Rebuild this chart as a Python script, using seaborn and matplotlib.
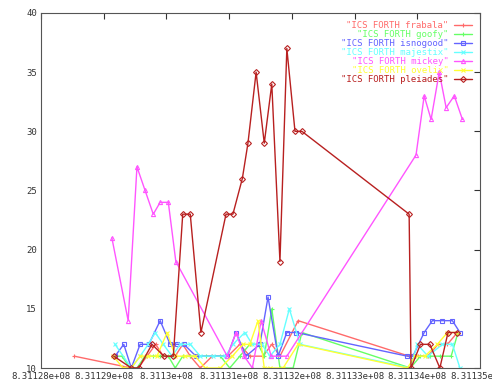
import matplotlib
matplotlib.use("Agg")
import matplotlib.pyplot as plt
import seaborn as sns

# time stamps (seconds) and load values
frabala_t = [831128530, 831129440, 831129550, 831129690, 831129830, 831129950, 831130140, 831130260,
             831130380, 831130540, 831130730, 831130980, 831131170, 831131330, 831131540, 831131680,
             831131810, 831132100, 831133870, 831134010, 831134170, 831134330, 831134480, 831134640]
frabala_v = [11, 10, 10, 11, 12, 11, 11, 12, 11, 10, 11, 11, 12, 11, 11, 12, 11, 14, 11, 11, 11, 12, 12, 13]

goofy_t = [831129160, 831129290, 831129420, 831129530, 831129660, 831129790, 831129900, 831130030,
           831130140, 831130260, 831130380, 831130500, 831130630, 831130860, 831131010, 831131170,
           831131330, 831131460, 831131560, 831131680, 831131810, 831132020, 831132160, 831133890,
           831134050, 831134200, 831134360, 831134540, 831134650]
goofy_v = [11, 11, 10, 10, 11, 11, 11, 11, 10, 11, 11, 11, 11, 11, 10, 11, 12, 12, 11, 15, 10, 10, 13,
           10, 11, 11, 11, 11, 13]

isnogood_t = [831129180, 831129320, 831129440, 831129580, 831129720, 831129900, 831130060, 831130170,
              831130280, 831130470, 831130970, 831131110, 831131270, 831131490, 831131620, 831131780,
              831131920, 831132070, 831133840, 831133930, 831134110, 831134240, 831134400, 831134560,
              831134680]
isnogood_v = [11, 12, 10, 12, 12, 14, 12, 12, 12, 11, 11, 13, 11, 12, 16, 11, 13, 13, 11, 11, 13, 14,
              14, 14, 13]

majestix_t = [831129180, 831129440, 831129580, 831129710, 831129820, 831129950, 831130090, 831130220,
              831130380, 831130540, 831130740, 831130940, 831131060, 831131250, 831131370, 831131520,
              831131650, 831131810, 831131960, 831132130, 831133890, 831134000, 831134170, 831134400,
              831134560, 831134680]
majestix_v = [12, 10, 11, 12, 13, 12, 11, 12, 12, 11, 11, 11, 12, 13, 12, 12, 11, 12, 15, 12, 10, 12,
              11, 12, 12, 10]

mickey_t = [831129130, 831129390, 831129530, 831129660, 831129790, 831129900, 831130030, 831130150,
            831130970, 831131110, 831131240, 831131370, 831131510, 831131670, 831131920, 831133980,
            831134110, 831134220, 831134350, 831134460, 831134590, 831134720]
mickey_v = [21, 14, 27, 25, 23, 24, 24, 19, 11, 13, 11, 10, 14, 11, 11, 28, 33, 31, 35, 32, 33, 31]

ovelix_t = [831129150, 831129310, 831129440, 831129580, 831129710, 831129850, 831130010, 831130140,
            831130300, 831130460, 831130620, 831130860, 831131050, 831131220, 831131330, 831131460,
            831131560, 831131650, 831131860, 831132100, 831133840, 831133970, 831134120, 831134320,
            831134480, 831134640]
ovelix_v = [11, 10, 10, 11, 11, 11, 13, 11, 11, 11, 10, 10, 11, 12, 12, 14, 10, 10, 10, 12, 10, 11,
            11, 12, 13, 13]

pleiades_t = [831129160, 831129440, 831129560, 831129770, 831129960, 831130110, 831130260, 831130380,
              831130550, 831130950, 831131060, 831131210, 831131300, 831131430, 831131560, 831131680,
              831131810, 831131920, 831132050, 831132160, 831133870, 831133900, 831134050, 831134200,
              831134360, 831134490, 831134640]
pleiades_v = [11, 10, 10, 12, 11, 11, 23, 23, 13, 23, 23, 26, 29, 35, 29, 34, 19, 37, 30, 30, 23, 10,
              12, 12, 10, 13, 13]

x_ticks = [831128000, 831129000, 831130000, 831131000, 831132000, 831133000, 831134000, 831135000]
x_tick_labels = ["8.31128e+08", "8.31129e+08", "8.3113e+08", "8.31131e+08",
                 "8.31132e+08", "8.31133e+08", "8.31134e+08", "8.31135e+08"]
y_ticks = [10, 15, 20, 25, 30, 35, 40]

series = [
    ('"ICS FORTH frabala"', frabala_t, frabala_v, "#ff6a6a", "+"),
    ('"ICS FORTH goofy"', goofy_t, goofy_v, "#66ff66", "+"),
    ('"ICS FORTH isnogood"', isnogood_t, isnogood_v, "#6464ff", "s"),
    ('"ICS FORTH majestix"', majestix_t, majestix_v, "#66ffff", "x"),
    ('"ICS FORTH mickey"', mickey_t, mickey_v, "#ff55ff", "^"),
    ('"ICS FORTH ovelix"', ovelix_t, ovelix_v, "#ffff33", "x"),
    ('"ICS FORTH pleiades"', pleiades_t, pleiades_v, "#b82020", "D"),
]

sns.set_style("white")
plt.rcParams["font.family"] = ["DejaVu Sans Mono"]

fig, ax = plt.subplots(figsize=(4.92, 3.81), dpi=100)
fig.subplots_adjust(left=41 / 492, right=480 / 492, bottom=1 - 368 / 381, top=1 - 13 / 381)

for name, t, v, col, mk in series:
    sns.lineplot(x=t, y=v, ax=ax, color=col, marker=mk, markersize=3, linewidth=1,
                 markeredgecolor=col, markerfacecolor="none", markeredgewidth=0.8,
                 label=name, sort=False, estimator=None)

ax.set_xlim(831128000, 831135000)
ax.set_ylim(10, 40)
ax.set_xticks(x_ticks)
ax.set_xticklabels(x_tick_labels)
ax.set_yticks(y_ticks)
ax.tick_params(direction="in", top=True, right=True, length=4, width=0.8,
               labelsize=6.5, colors="#333333")
ax.tick_params(axis="x", pad=3)
ax.tick_params(axis="y", pad=3)
for sp in ax.spines.values():
    sp.set_color("#555555")
    sp.set_linewidth(0.8)

leg = ax.legend(loc="upper right", markerfirst=False, frameon=False, labelcolor="linecolor",
                fontsize=6.5, handlelength=2.0, handletextpad=0.6, labelspacing=0.0,
                borderaxespad=0.5)

fig.savefig("out.png", dpi=100)
